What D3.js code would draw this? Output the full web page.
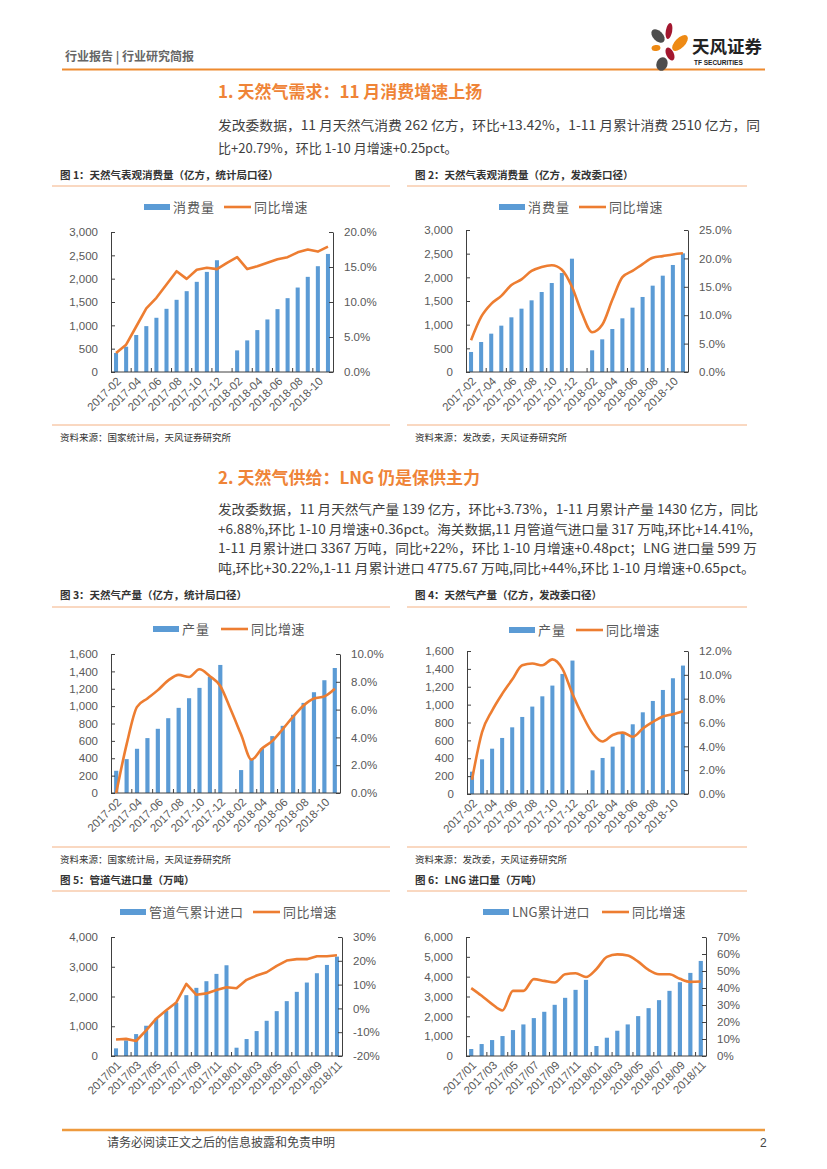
<!DOCTYPE html>
<html>
<head>
<meta charset="utf-8">
<script src="https://cdn.jsdelivr.net/npm/d3@7"></script>
<style>
  body { margin: 0; background: #fff; }
  svg { display: block; }
</style>
</head>
<body>
<svg id="page" width="827" height="1169"></svg>
<script>
// categories
var monthsA = ["2017-02","2017-03","2017-04","2017-05","2017-06","2017-07","2017-08","2017-09","2017-10","2017-11","2017-12",
  "2018-01","2018-02","2018-03","2018-04","2018-05","2018-06","2018-07","2018-08","2018-09","2018-10","2018-11"];
var monthsB = ["2017/01","2017/02","2017/03","2017/04","2017/05","2017/06","2017/07","2017/08","2017/09","2017/10","2017/11","2017/12",
  "2018/01","2018/02","2018/03","2018/04","2018/05","2018/06","2018/07","2018/08","2018/09","2018/10","2018/11"];

// fig 1 : 消费量 (统计局)
var consumeNBS = [407,542,793,983,1162,1354,1547,1732,1932,2145,2395,null,463,677,898,1126,1347,1582,1810,2039,2267,2530];
var consumeNBSYoy = [2.7,3.9,6.5,9.1,10.6,12.5,14.4,13.3,14.6,14.9,14.7,15.6,16.4,14.7,15.1,15.6,16.1,16.4,17.1,17.5,17.2,17.9];
// fig 2 : 消费量 (发改委)
var consumeNDRC = [423,634,810,979,1155,1338,1514,1690,1880,2092,2394,null,458,690,908,1134,1359,1585,1824,2035,2261,2507];
var consumeNDRCYoy = [5.6,9.7,12.0,13.4,15.3,16.3,17.8,18.5,18.8,18.0,15.0,10.3,7.0,8.3,12.7,16.7,17.8,19.0,20.1,20.4,20.7,20.9];
// fig 3 : 产量 (统计局)
var outputNBS = [256,390,509,632,739,861,980,1091,1210,1340,1474,null,264,394,513,655,773,900,1037,1160,1298,1439];
var outputNBSYoy = [0.0,3.5,6.2,6.8,7.4,8.1,8.5,8.35,8.9,8.4,7.7,6.0,4.2,2.4,3.2,3.75,4.6,5.5,6.3,6.8,6.95,7.5];
// fig 4 : 产量 (发改委)
var outputNDRC = [250,388,507,627,746,862,978,1093,1213,1343,1493,null,265,403,530,672,780,914,1041,1164,1295,1437];
var outputNDRCYoy = [1.2,5.2,7.0,8.4,9.6,10.8,10.95,10.8,11.3,10.5,8.4,6.6,5.1,4.4,4.95,5.15,4.8,5.5,6.05,6.5,6.7,6.95];
// fig 5 : 管道气累计进口
var pipeImport = [257,525,737,1017,1251,1520,1788,2045,2291,2514,2760,3050,279,570,838,1184,1508,1844,2156,2469,2782,3061,3341];
var pipeImportYoy = [-13.1,-12.8,-13.7,-9.2,-4.3,-0.8,2.5,10.3,5.7,6.3,7.7,8.9,8.5,12.0,13.8,15.2,17.9,20.1,20.7,20.7,21.9,21.9,22.3];
// fig 6 : LNG累计进口
var lngImport = [352,603,804,1006,1307,1592,1911,2229,2581,2933,3335,3838,503,922,1274,1592,2011,2413,2816,3285,3721,4190,4793];
var lngImportYoy = [39.9,35.4,30.5,26.8,38.3,38.3,45.2,44.2,43.2,48.1,48.7,46.5,51.2,58.3,59.8,59.1,55.5,50.6,48.1,48.1,45.4,43.6,43.8];

// tick labels
var ticks3000 = [0,500,1000,1500,2000,2500,3000];
var ticks1600 = [0,200,400,600,800,1000,1200,1400,1600];
var ticks4000 = [0,1000,2000,3000,4000];
var ticks6000 = [0,1000,2000,3000,4000,5000,6000];
var pct20 = [0,5,10,15,20];
var pct25 = [0,5,10,15,20,25];
var pct10 = [0,2,4,6,8,10];
var pct12 = [0,2,4,6,8,10,12];
var pctPipe = [-20,-10,0,10,20,30];
var pct70 = [0,10,20,30,40,50,60,70];

var BLUE = "#5B9BD5", ORANGE = "#ED7D31";
var CN = "'Noto Sans CJK SC', sans-serif";
var NUM = "'Liberation Sans', 'Noto Sans CJK SC', sans-serif";

var svg = d3.select("#page");
svg.append("rect").attr("width", 827).attr("height", 1169).attr("fill", "#fff");

// ---------- header ----------
svg.append("text").attr("x", 65).attr("y", 61).attr("font-family", CN).attr("font-size", 12)
  .attr("font-weight", "bold").attr("fill", "#666").attr("xml:space", "preserve").text("行业报告 | 行业研究简报");
svg.append("line").attr("x1", 62).attr("x2", 765).attr("y1", 69.5).attr("y2", 69.5)
  .attr("stroke", "#EE8A2E").attr("stroke-width", 2);

// logo petals
var petals = [
  {cx: 658, cy: 36, rx: 5, ry: 8, r: -45, c: "#4d4d4d"},
  {cx: 669, cy: 31, rx: 3.2, ry: 8, r: 10, c: "#A3172F"},
  {cx: 680, cy: 43, rx: 5, ry: 10, r: 45, c: "#EE8A14"},
  {cx: 656, cy: 48, rx: 4.5, ry: 3, r: -10, c: "#EE8A14"},
  {cx: 670, cy: 54, rx: 3.8, ry: 7, r: -25, c: "#A3172F"},
  {cx: 662, cy: 64, rx: 5.5, ry: 7, r: 20, c: "#4d4d4d"}
];
svg.append("g").selectAll("ellipse").data(petals).join("ellipse")
  .attr("cx", d => d.cx).attr("cy", d => d.cy).attr("rx", d => d.rx).attr("ry", d => d.ry)
  .attr("transform", d => "rotate(" + d.r + "," + d.cx + "," + d.cy + ")").attr("fill", d => d.c);
svg.append("text").attr("x", 692).attr("y", 53).attr("font-family", CN).attr("font-size", 17.5)
  .attr("font-weight", "bold").attr("fill", "#222").text("天风证券");
svg.append("text").attr("x", 694).attr("y", 65).attr("font-family", NUM).attr("font-size", 6.5)
  .attr("font-weight", "bold").attr("fill", "#222").text("TF SECURITIES");

// ---------- section texts ----------
function sectionTitle(txt, y) {
  svg.append("text").attr("x", 218).attr("y", y).attr("font-family", CN).attr("font-size", 17)
    .attr("font-weight", "bold").attr("fill", "#EF8437").text(txt);
}
function para(lines, y0, gap) {
  lines.forEach(function(l, i) {
    var t = svg.append("text").attr("x", 218).attr("y", y0 + i * gap).attr("font-family", CN)
      .attr("font-size", 13).attr("fill", "#404040").text(l.t);
    if (l.w) t.attr("textLength", l.w).attr("lengthAdjust", "spacingAndGlyphs");
  });
}
sectionTitle("1. 天然气需求：11 月消费增速上扬", 98);
para([
  {t: "发改委数据，11 月天然气消费 262 亿方，环比+13.42%，1-11 月累计消费 2510 亿方，同", w: 542},
  {t: "比+20.79%，环比 1-10 月增速+0.25pct。", w: 0}
], 130, 22.5);

sectionTitle("2. 天然气供给：LNG 仍是保供主力", 484);
para([
  {t: "发改委数据，11 月天然气产量 139 亿方，环比+3.73%，1-11 月累计产量 1430 亿方，同比", w: 540},
  {t: "+6.88%,环比 1-10 月增速+0.36pct。海关数据,11 月管道气进口量 317 万吨,环比+14.41%,", w: 535},
  {t: "1-11 月累计进口 3367 万吨，同比+22%，环比 1-10 月增速+0.48pct；LNG 进口量 599 万", w: 539},
  {t: "吨,环比+30.22%,1-11 月累计进口 4775.67 万吨,同比+44%,环比 1-10 月增速+0.65pct。", w: 537}
], 514, 19.5);

// ---------- chart frames ----------
function frame(x0, x1, titleY, title, topLine, bottomLine, source) {
  svg.append("text").attr("x", x0 + 8).attr("y", titleY).attr("font-family", CN).attr("font-size", 10.5)
    .attr("font-weight", "bold").attr("fill", "#333").text(title);
  svg.append("line").attr("x1", x0).attr("x2", x1).attr("y1", topLine).attr("y2", topLine)
    .attr("stroke", "#F4B183").attr("stroke-width", 1);
  if (bottomLine) {
    svg.append("line").attr("x1", x0).attr("x2", x1).attr("y1", bottomLine).attr("y2", bottomLine)
      .attr("stroke", "#F4B183").attr("stroke-width", 1);
    svg.append("text").attr("x", x0 + 8).attr("y", bottomLine + 16).attr("font-family", CN)
      .attr("font-size", 9.5).attr("fill", "#333").text(source);
  }
}
frame(52, 390, 179, "图 1：天然气表观消费量（亿方，统计局口径）", 186, 425, "资料来源：国家统计局，天风证券研究所");
frame(407, 747, 179, "图 2：天然气表观消费量（亿方，发改委口径）", 186, 425, "资料来源：发改委，天风证券研究所");
frame(52, 390, 599, "图 3：天然气产量（亿方，统计局口径）", 607, 847, "资料来源：国家统计局，天风证券研究所");
frame(407, 747, 599, "图 4：天然气产量（亿方，发改委口径）", 607, 847, "资料来源：发改委，天风证券研究所");
frame(52, 390, 884, "图 5：管道气进口量（万吨）", 891, 0, "");
frame(407, 747, 884, "图 6：LNG 进口量（万吨）", 891, 0, "");

// ---------- combo chart ----------
function comboChart(cfg) {
  var g = svg.append("g");
  var x = d3.scaleBand().domain(cfg.cats).range([cfg.left, cfg.right]).padding(0);
  var y = d3.scaleLinear().domain([0, d3.max(cfg.yTicks)]).range([cfg.bottom, cfg.top]);
  var y2 = d3.scaleLinear().domain(d3.extent(cfg.y2Ticks)).range([cfg.bottom, cfg.top]);
  var bw = x.bandwidth() * 0.4;
  var idx = cfg.cats.map((c, i) => i);

  // bars
  g.append("g").selectAll("rect").data(idx.filter(i => cfg.bars[i] != null)).join("rect")
    .attr("x", i => x(cfg.cats[i]) + (x.bandwidth() - bw) / 2)
    .attr("y", i => y(cfg.bars[i]))
    .attr("width", bw)
    .attr("height", i => y(0) - y(cfg.bars[i]))
    .attr("fill", BLUE);

  // x axis line + ticks
  g.append("line").attr("x1", cfg.left).attr("x2", cfg.right).attr("y1", cfg.bottom).attr("y2", cfg.bottom)
    .attr("stroke", "#404040").attr("stroke-width", 1);
  g.append("g").selectAll("line").data(idx.filter(i => i % 2 == 0 && i > 0)).join("line")
    .attr("x1", i => x(cfg.cats[i])).attr("x2", i => x(cfg.cats[i]))
    .attr("y1", cfg.bottom).attr("y2", cfg.bottom - 4).attr("stroke", "#404040");
  g.append("g").selectAll("text").data(idx.filter(i => i % 2 == 0)).join("text")
    .attr("transform", i => "translate(" + (x(cfg.cats[i]) + x.bandwidth() / 2 + 3) + "," + (cfg.bottom + 7) + ") rotate(-45)")
    .attr("text-anchor", "end").attr("dy", "0.35em")
    .attr("font-family", NUM).attr("font-size", 11.5).attr("fill", "#595959")
    .text(i => cfg.cats[i]);

  // left axis
  var ax = g.append("g").attr("transform", "translate(" + cfg.left + ",0)")
    .call(d3.axisLeft(y).tickValues(cfg.yTicks).tickSize(-4).tickSizeOuter(0).tickPadding(13)
      .tickFormat(d3.format(",")));
  // right axis
  var ax2 = g.append("g").attr("transform", "translate(" + cfg.right + ",0)")
    .call(d3.axisRight(y2).tickValues(cfg.y2Ticks).tickSize(-4).tickSizeOuter(0).tickPadding(11)
      .tickFormat(d => cfg.y2Fmt(d)));
  [ax, ax2].forEach(function(a) {
    a.select(".domain").attr("stroke", "#404040");
    a.selectAll(".tick line").attr("stroke", "#404040");
    a.selectAll(".tick text").attr("font-family", NUM).attr("font-size", 11.5).attr("fill", "#595959");
  });

  // yoy line
  var line = d3.line()
    .x((d, i) => x(cfg.cats[i]) + x.bandwidth() / 2)
    .y(d => y2(d))
    .curve(cfg.curve);
  g.append("path").attr("d", line(cfg.line)).attr("fill", "none")
    .attr("stroke", ORANGE).attr("stroke-width", 2.6).attr("stroke-linejoin", "round");

  // legend
  var L = cfg.legend;
  g.append("rect").attr("x", L.bx).attr("y", L.y - 3).attr("width", 26).attr("height", 6).attr("fill", BLUE);
  g.append("text").attr("x", L.bx + 29).attr("y", L.y).attr("dy", "0.36em").attr("font-family", CN)
    .attr("font-size", 13).attr("fill", "#595959").attr("letter-spacing", L.ls || 0).text(L.barName);
  g.append("line").attr("x1", L.lx).attr("x2", L.lx + 27).attr("y1", L.y).attr("y2", L.y)
    .attr("stroke", ORANGE).attr("stroke-width", 2.6);
  g.append("text").attr("x", L.lx + 30).attr("y", L.y).attr("dy", "0.36em").attr("font-family", CN)
    .attr("font-size", 13).attr("fill", "#595959").attr("letter-spacing", 0.5).text("同比增速");
}

var fmt1 = d => d3.format(".1f")(d) + "%";
var fmt0 = d => d + "%";

comboChart({cats: monthsA, bars: consumeNBS, line: consumeNBSYoy, yTicks: ticks3000, y2Ticks: pct20, y2Fmt: fmt1,
  left: 111, right: 333, top: 232, bottom: 372, curve: d3.curveLinear,
  legend: {y: 207, bx: 144, lx: 224, barName: "消费量", ls: 1}});
comboChart({cats: monthsA, bars: consumeNDRC, line: consumeNDRCYoy, yTicks: ticks3000, y2Ticks: pct25, y2Fmt: fmt1,
  left: 466, right: 688, top: 230, bottom: 372, curve: d3.curveMonotoneX,
  legend: {y: 207, bx: 499, lx: 579, barName: "消费量", ls: 1}});
comboChart({cats: monthsA, bars: outputNBS, line: outputNBSYoy, yTicks: ticks1600, y2Ticks: pct10, y2Fmt: fmt1,
  left: 111, right: 340, top: 654, bottom: 793, curve: d3.curveMonotoneX,
  legend: {y: 629, bx: 153, lx: 221, barName: "产量", ls: 1}});
comboChart({cats: monthsA, bars: outputNDRC, line: outputNDRCYoy, yTicks: ticks1600, y2Ticks: pct12, y2Fmt: fmt1,
  left: 467, right: 688, top: 651, bottom: 794, curve: d3.curveMonotoneX,
  legend: {y: 630, bx: 509, lx: 576, barName: "产量", ls: 1}});
comboChart({cats: monthsB, bars: pipeImport, line: pipeImportYoy, yTicks: ticks4000, y2Ticks: pctPipe, y2Fmt: fmt0,
  left: 111, right: 342, top: 937, bottom: 1056, curve: d3.curveLinear,
  legend: {y: 912, bx: 120, lx: 253, barName: "管道气累计进口", ls: 0.5}});
comboChart({cats: monthsB, bars: lngImport, line: lngImportYoy, yTicks: ticks6000, y2Ticks: pct70, y2Fmt: fmt0,
  left: 466, right: 706, top: 937, bottom: 1056, curve: d3.curveMonotoneX,
  legend: {y: 912, bx: 483, lx: 602, barName: "LNG累计进口", ls: 0}});

// ---------- footer ----------
svg.append("line").attr("x1", 62).attr("x2", 765).attr("y1", 1130).attr("y2", 1130)
  .attr("stroke", "#EE9A3E").attr("stroke-width", 2.5);
svg.append("text").attr("x", 107).attr("y", 1147).attr("font-family", CN).attr("font-size", 12)
  .attr("fill", "#444").text("请务必阅读正文之后的信息披露和免责申明");
svg.append("text").attr("x", 760).attr("y", 1147).attr("font-family", NUM).attr("font-size", 12)
  .attr("fill", "#444").text("2");
</script>
</body>
</html>
